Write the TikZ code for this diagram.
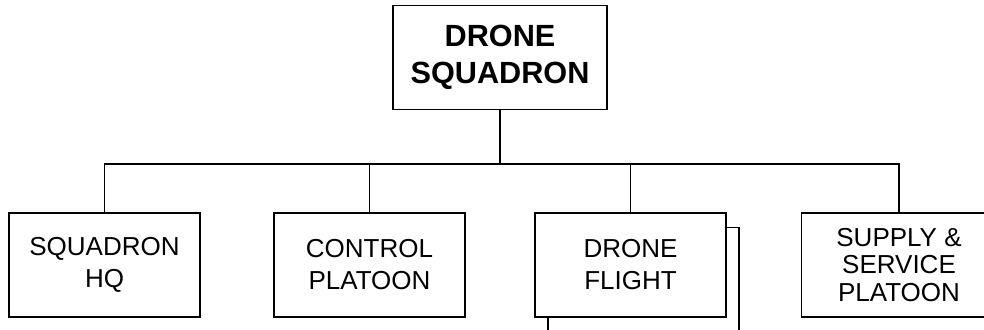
\documentclass[tikz,border=0pt]{standalone}
\usepackage{fontspec}
\setmainfont{Liberation Sans}
\usetikzlibrary{positioning, shadows}

\begin{document}
\begin{tikzpicture}[
  x=0.75pt, y=0.75pt,
  unit/.style={rectangle, draw, line width=0.8pt, fill=white, minimum width=143.25pt, minimum height=78pt, align=center, font=\fontsize{19.5}{24}\selectfont},
  hq/.style={unit, minimum width=160.5pt, font=\fontsize{23}{27.5}\selectfont\bfseries},
  link/.style={line width=0.8pt},
]
  \useasboundingbox (0,0) rectangle (984,-329);
  \clip (0,0) rectangle (984,-329);

  \node[hq] (sqn) at (500,-57.5) {DRONE\\SQUADRON};

  \node[unit] (hqs) at (104.5,-265) {SQUADRON\\HQ};
  \node[unit] (ctl) at (369.5,-265) {CONTROL\\PLATOON};
  \node[unit, copy shadow={shadow xshift=9.75pt, shadow yshift=-11pt}] (flt) at (630.5,-265) {DRONE\\FLIGHT};
  \node[unit, minimum width=146.25pt, font=\fontsize{19.5}{20.5}\selectfont] (sup) at (899,-265) {SUPPLY \&\\SERVICE\\PLATOON};

  \coordinate (bus) at (500,-164);

  \draw[link] (sqn) -- (bus);
  \draw[link] (bus) -| (hqs.north);
  \draw[link] (bus) -| (ctl.north);
  \draw[link] (bus) -| (flt.north);
  \draw[link] (bus) -| (sup.north);
\end{tikzpicture}
\end{document}
